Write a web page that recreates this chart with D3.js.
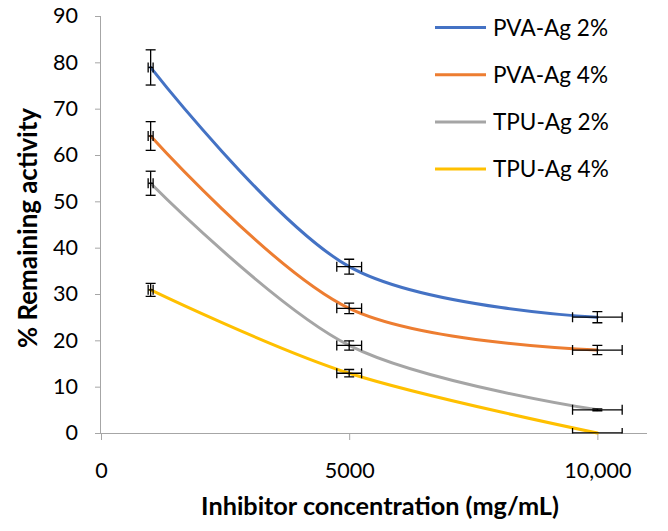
<!DOCTYPE html>
<html><head><meta charset="utf-8">
<script src="https://cdn.jsdelivr.net/npm/d3@7"></script>
<style>body{margin:0;background:#fff}svg{display:block}text{font-family:Lato,"Open Sans",sans-serif;fill:#000}</style>
</head><body><svg id="c" width="668" height="531"></svg>
<script>
const concentrations = [1000, 5000, 10000];
const seriesNames = ["PVA-Ag 2%", "PVA-Ag 4%", "TPU-Ag 2%", "TPU-Ag 4%"];
const seriesColors = ["#4472C4", "#ED7D31", "#A5A5A5", "#FFC000"];
const pvaAg2 = [78.9, 35.9, 25.0];
const pvaAg4 = [64.1, 26.9, 17.9];
const tpuAg2 = [53.9, 18.9, 5.0];
const tpuAg4 = [30.9, 12.9, 0.0];
const pvaAg2Err = [3.8, 1.6, 1.2];
const pvaAg4Err = [3.1, 1.15, 1.0];
const tpuAg2Err = [2.6, 1.0, 0.2];
const tpuAg4Err = [1.4, 0.8, 0.0];
const xErr = [50, 250, 500];
const yTicks = [0, 10, 20, 30, 40, 50, 60, 70, 80, 90];
const xTicks = [0, 5000, 10000];
const xTickLabels = ["0", "5000", "10,000"];
const xTitle = "Inhibitor concentration (mg/mL)";
const yTitle = "% Remaining activity";

const values = [pvaAg2, pvaAg4, tpuAg2, tpuAg4];
const errs = [pvaAg2Err, pvaAg4Err, tpuAg2Err, tpuAg4Err];

const svg = d3.select("#c");
const x = d3.scaleLinear().domain([0, 11000]).range([101, 647]);
const y = d3.scaleLinear().domain([0, 90]).range([433, 16]);
const axisColor = "#A6A6A6";

// size a font so that a sample string gets a target width
function fitSize(sample, target, weight) {
  const t = svg.append("text").style("font-size", "20px").style("font-weight", weight || "normal").text(sample);
  const w = t.node().getComputedTextLength();
  t.remove();
  return 20 * target / w;
}
const tickSize = fitSize("5000", 50);
const legendSize = fitSize("PVA-Ag 2%", 115);
const xTitleSize = fitSize(xTitle, 358, "bold");
const yTitleSize = fitSize(yTitle, 240, "bold");

// Y axis
const yAx = svg.append("g").attr("transform", "translate(101,0)")
  .call(d3.axisLeft(y).tickValues(yTicks).tickSize(6).tickPadding(17));
yAx.select(".domain").attr("stroke", axisColor).attr("d", "M-0.5," + y(90) + "V" + y(0));
yAx.selectAll(".tick line").attr("stroke", axisColor);
yAx.selectAll("text").style("font-size", tickSize + "px").style("font-family", null).attr("fill", "#000");

// X axis
const xAx = svg.append("g").attr("transform", "translate(0,433)")
  .call(d3.axisBottom(x).tickValues(xTicks).tickFormat((d, i) => xTickLabels[i]).tickSize(7));
xAx.select(".domain").attr("stroke", axisColor).attr("d", "M" + x(0) + ",0.5H" + x(11000));
xAx.selectAll(".tick line").attr("stroke", axisColor);
xAx.selectAll("text").style("font-size", tickSize + "px").style("font-family", null)
  .attr("fill", "#000").attr("dy", null).attr("y", 45);

// Titles
svg.append("text").attr("x", 380).attr("y", 515).attr("text-anchor", "middle")
  .style("font-size", xTitleSize + "px").style("font-weight", "bold").text(xTitle);
svg.append("text").attr("transform", "translate(37,228) rotate(-90)").attr("text-anchor", "middle")
  .style("font-size", yTitleSize + "px").style("font-weight", "bold").text(yTitle);

// clip
svg.append("clipPath").attr("id", "plot").append("rect")
  .attr("x", 90).attr("y", 0).attr("width", 578).attr("height", 433.5);

// Lines
const line = d3.line().x(d => x(d[0])).y(d => y(d[1])).curve(d3.curveCardinal.tension(0));
values.forEach((vals, i) => {
  svg.append("path").datum(concentrations.map((c, j) => [c, vals[j]]))
    .attr("d", line).attr("fill", "none").attr("stroke", seriesColors[i])
    .attr("stroke-width", 3).attr("stroke-linecap", "round");
});

// Error bars
const eb = svg.append("g").attr("clip-path", "url(#plot)").attr("stroke", "#000").attr("stroke-width", 1.3).attr("fill", "none");
values.forEach((vals, i) => {
  concentrations.forEach((c, j) => {
    const cx = x(c), cy = y(vals[j]);
    const e = errs[i][j];
    if (e > 0) {
      const t = y(vals[j] + e), b = y(vals[j] - e);
      eb.append("line").attr("x1", cx).attr("x2", cx).attr("y1", t).attr("y2", b);
      eb.append("line").attr("x1", cx - 5).attr("x2", cx + 5).attr("y1", t).attr("y2", t);
      eb.append("line").attr("x1", cx - 5).attr("x2", cx + 5).attr("y1", b).attr("y2", b);
    }
    const l = x(c - xErr[j]), r = x(c + xErr[j]);
    eb.append("line").attr("x1", l).attr("x2", r).attr("y1", cy).attr("y2", cy);
    eb.append("line").attr("x1", l).attr("x2", l).attr("y1", cy - 5).attr("y2", cy + 5);
    eb.append("line").attr("x1", r).attr("x2", r).attr("y1", cy - 5).attr("y2", cy + 5);
  });
});

// Legend
const lg = svg.append("g");
seriesNames.forEach((n, i) => {
  const ly = 27.5 + i * 47.2;
  lg.append("line").attr("x1", 435).attr("x2", 486).attr("y1", ly).attr("y2", ly)
    .attr("stroke", seriesColors[i]).attr("stroke-width", 3);
  lg.append("text").attr("x", 493).attr("y", ly).attr("dy", "0.36em")
    .style("font-size", legendSize + "px").text(n);
});
</script></body></html>
